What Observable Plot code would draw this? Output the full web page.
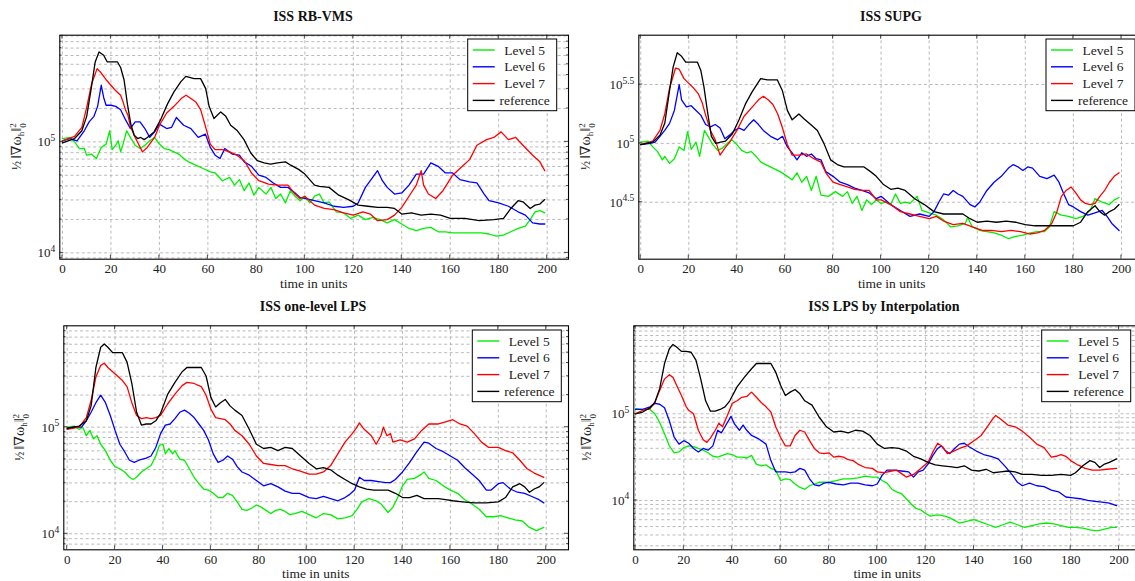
<!DOCTYPE html>
<html><head><meta charset="utf-8">
<script src="https://cdn.jsdelivr.net/npm/d3@7"></script>
<script src="https://cdn.jsdelivr.net/npm/@observablehq/plot@0.6"></script>
<style>
html,body{margin:0;padding:0;background:#fff;overflow:hidden;}
body{width:1135px;height:581px;position:relative;font-family:"Liberation Serif","DejaVu Serif",serif;}
.panel{position:absolute;}
.panel text, .panel tspan{font-family:"Liberation Serif","DejaVu Serif",serif !important;}
</style></head><body>
<script>
// Values are log10 of ½‖∇ω_h‖²₀, pairs [time, log10 value]
const seriesNames = ["Level 5", "Level 6", "Level 7", "reference"];
const seriesColors = ["#00f000", "#0000ff", "#ff0000", "#000000"];
const xTickValues = [0, 20, 40, 60, 80, 100, 120, 140, 160, 180, 200];

// ---- ISS RB-VMS ----
const rbvms_level5 = [[0,5.03],[3,5.04],[5,5.0],[7,4.94],[9,4.94],[10,4.88],[12,4.89],[14,4.85],[16,4.95],[18,4.98],[19.5,5.1],[20.5,4.93],[22,4.97],[23,5.01],[24,4.91],[25,4.98],[26.5,5.1],[28,5.04],[30,4.97],[32,4.94],[34,4.97],[36,5.01],[38,5.04],[40,4.98],[42,4.94],[44,4.93],[46,4.91],[48,4.89],[50,4.85],[52,4.82],[55,4.79],[58,4.76],[61,4.73],[63,4.72],[66,4.65],[69,4.68],[71,4.61],[73,4.66],[75,4.56],[77,4.63],[79,4.52],[81,4.59],[84,4.53],[86,4.59],[88,4.49],[90,4.53],[92,4.45],[94,4.56],[96,4.51],[98,4.47],[100,4.51],[102,4.45],[104,4.51],[106,4.53],[108,4.45],[110,4.46],[113,4.37],[116,4.36],[119,4.31],[122,4.34],[125,4.3],[128,4.32],[131,4.3],[134,4.27],[137,4.3],[140,4.26],[143,4.22],[146,4.2],[149,4.22],[152,4.23],[155,4.19],[158,4.19],[161,4.18],[165,4.18],[169,4.18],[173,4.18],[176,4.17],[179,4.15],[182,4.16],[185,4.19],[188,4.22],[191,4.24],[193,4.3],[195,4.37],[197,4.38],[199,4.36]];
const rbvms_level6 = [[0,5.01],[3,5.03],[6,5.01],[9,5.1],[11,5.18],[13,5.23],[14.5,5.32],[16,5.51],[17,5.4],[18,5.33],[20,5.33],[22,5.32],[24,5.29],[26,5.2],[28,5.12],[30,5.18],[32,5.18],[34,5.12],[36,5.04],[38,5.09],[40,5.16],[43,5.12],[45,5.13],[47,5.22],[50,5.15],[53,5.12],[56,5.04],[59,5.07],[61,4.95],[63,4.88],[65,4.85],[67,4.94],[70,4.89],[73,4.88],[75,4.82],[78,4.78],[81,4.7],[84,4.68],[87,4.63],[90,4.59],[93,4.59],[96,4.54],[98,4.5],[100,4.49],[104,4.47],[108,4.45],[112,4.42],[116,4.41],[120,4.42],[122,4.45],[125,4.59],[128,4.68],[130,4.74],[132,4.65],[134,4.59],[137,4.53],[140,4.54],[143,4.61],[146,4.71],[149,4.71],[152,4.81],[155,4.78],[158,4.72],[161,4.72],[164,4.66],[168,4.64],[171,4.63],[174,4.53],[176,4.47],[180,4.45],[184,4.42],[188,4.37],[191,4.34],[194,4.27],[197,4.26],[199,4.26]];
const rbvms_level7 = [[0,5.01],[5,5.05],[8,5.13],[10,5.31],[12,5.52],[14.3,5.66],[16,5.62],[18,5.56],[20,5.51],[22,5.46],[24,5.42],[25,5.36],[26,5.29],[27,5.24],[28,5.14],[30,5.04],[33,4.91],[35,4.95],[38,5.04],[40,5.15],[43,5.26],[46,5.32],[49,5.39],[51,5.42],[53,5.39],[55,5.36],[57,5.29],[59,5.14],[61,4.98],[63,4.93],[66,4.93],[69,4.91],[72,4.88],[75,4.83],[78,4.72],[81,4.65],[85,4.62],[89,4.61],[93,4.61],[96,4.53],[98,4.49],[100,4.51],[104,4.43],[108,4.4],[112,4.39],[116,4.36],[120,4.34],[124,4.37],[127,4.35],[130,4.29],[134,4.3],[137,4.34],[140,4.41],[143,4.51],[146,4.61],[148,4.74],[149,4.61],[151,4.53],[154,4.49],[157,4.56],[161,4.7],[165,4.78],[168,4.84],[171,4.97],[175,5.02],[178,5.04],[181,5.09],[184,5.02],[187,5.04],[190,4.97],[194,4.88],[197,4.82],[199,4.74]];
const rbvms_reference = [[0,4.99],[5,5.03],[8,5.1],[10,5.23],[12,5.5],[13.5,5.72],[15.1,5.81],[17,5.78],[18.5,5.72],[20,5.72],[22.7,5.72],[24,5.67],[25.4,5.56],[26.8,5.34],[28.2,5.16],[29.6,5.06],[31,5.03],[32.3,5.04],[33.7,5.02],[35,5.04],[37.8,5.09],[40.5,5.2],[43.3,5.34],[46,5.45],[48.8,5.54],[50.9,5.59],[54.3,5.57],[57,5.57],[59.1,5.48],[60.5,5.32],[62.5,5.21],[65.3,5.27],[67.4,5.23],[69.4,5.15],[72.2,5.1],[74.9,5.02],[77.7,4.9],[80.4,4.83],[83.2,4.81],[85.9,4.8],[88.7,4.81],[92,4.82],[94.2,4.79],[97.6,4.75],[100,4.71],[104,4.61],[106,4.6],[110,4.59],[114,4.52],[118,4.48],[122,4.43],[126,4.42],[130,4.41],[134,4.41],[137,4.4],[140,4.35],[144,4.36],[148,4.34],[152,4.35],[156,4.34],[160,4.31],[166,4.31],[172,4.29],[178,4.3],[182,4.31],[185,4.4],[188,4.47],[190,4.46],[193,4.4],[195,4.43],[197,4.44],[199,4.48]];

// ---- ISS SUPG ----
const supg_level5 = [[0,5.01],[3,5.02],[5,4.97],[7,4.93],[9,4.86],[10,4.89],[12,4.83],[14,4.87],[16,4.97],[18,4.94],[19.5,5.1],[21,4.95],[23,5.01],[24.5,4.89],[26.5,5.11],[28,5.06],[30,4.99],[32,4.94],[34,4.96],[36,5.0],[38,5.03],[40,4.99],[42,4.94],[44,4.92],[46,4.93],[48,4.89],[50,4.84],[52,4.82],[55,4.79],[58,4.76],[61,4.72],[63,4.69],[65,4.75],[67,4.67],[69,4.72],[71,4.6],[73,4.72],[75,4.56],[78,4.55],[81,4.59],[84,4.55],[86,4.59],[88,4.49],[90,4.55],[92,4.43],[94,4.52],[96,4.48],[98,4.52],[100,4.49],[102,4.5],[104,4.48],[106,4.57],[108,4.49],[110,4.5],[112,4.49],[115,4.55],[117,4.43],[120,4.41],[123,4.39],[126,4.35],[129,4.29],[132,4.3],[135,4.32],[136,4.37],[138,4.29],[141,4.26],[144,4.25],[147,4.24],[150,4.22],[153,4.19],[156,4.21],[159,4.22],[162,4.24],[165,4.25],[168,4.25],[170,4.29],[172,4.42],[175,4.39],[178,4.38],[181,4.36],[184,4.38],[187,4.43],[189,4.53],[192,4.5],[195,4.48],[197,4.52],[199,4.54]];
const supg_level6 = [[0,4.99],[4,5.0],[6,5.01],[8,5.06],[10,5.11],[12,5.17],[14,5.28],[16,5.5],[17,5.37],[19,5.31],[21,5.32],[23,5.28],[25,5.24],[27,5.16],[29,5.14],[31,5.16],[33,5.13],[35,5.04],[37,5.07],[39,5.11],[41,5.13],[43,5.11],[45,5.16],[47,5.2],[49,5.16],[51,5.11],[54,5.06],[57,5.03],[59,5.06],[61,4.97],[63,4.92],[65,4.86],[67,4.92],[69,4.89],[71,4.91],[73,4.87],[75,4.86],[77,4.76],[80,4.72],[83,4.67],[86,4.65],[89,4.62],[92,4.6],[95,4.58],[98,4.53],[100,4.55],[104,4.48],[108,4.43],[112,4.38],[116,4.4],[120,4.38],[122,4.42],[124,4.5],[126,4.57],[128,4.56],[130,4.6],[132,4.57],[134,4.55],[137,4.48],[139,4.46],[141,4.5],[144,4.6],[147,4.67],[150,4.72],[153,4.79],[155,4.82],[157,4.8],[159,4.77],[161,4.8],[163,4.79],[166,4.72],[169,4.7],[172,4.73],[174,4.67],[176,4.57],[178,4.48],[180,4.46],[183,4.42],[186,4.39],[189,4.41],[192,4.43],[194,4.38],[196,4.32],[199,4.26]];
const supg_level7 = [[0,4.99],[5,5.02],[8,5.11],[10,5.25],[12,5.47],[14.5,5.64],[16,5.63],[18,5.55],[20,5.51],[22,5.47],[24,5.42],[25.5,5.35],[27,5.24],[29,5.11],[31,5.03],[33,4.9],[35,4.96],[37,5.01],[40,5.11],[43,5.23],[46,5.3],[49,5.37],[51,5.4],[53,5.37],[55,5.33],[57,5.25],[59,5.13],[61,4.99],[63,4.9],[66,4.9],[69,4.91],[72,4.87],[75,4.84],[77,4.75],[80,4.67],[83,4.65],[86,4.63],[89,4.61],[92,4.6],[95,4.6],[98,4.52],[100,4.52],[104,4.48],[108,4.42],[112,4.4],[116,4.38],[120,4.36],[123,4.38],[126,4.34],[130,4.31],[134,4.32],[138,4.29],[142,4.26],[146,4.26],[150,4.25],[154,4.26],[158,4.25],[162,4.23],[165,4.24],[168,4.26],[171,4.32],[173,4.41],[175,4.55],[177,4.6],[179,4.63],[181,4.58],[183,4.52],[185,4.49],[187,4.48],[189,4.49],[191,4.55],[193,4.6],[195,4.67],[197,4.72],[199,4.75]];
const supg_reference = [[0,4.99],[5,5.01],[8,5.07],[10,5.17],[12,5.45],[13.5,5.65],[15.2,5.77],[17,5.74],[18.7,5.69],[20.8,5.69],[23.6,5.69],[25,5.62],[26.3,5.48],[27.7,5.28],[29.4,5.06],[31.2,5.0],[33.3,5.01],[35.3,5.02],[38.1,5.08],[40.9,5.2],[43.7,5.34],[46.4,5.44],[49.9,5.55],[52.7,5.54],[56.8,5.54],[58.9,5.45],[61,5.28],[63,5.2],[65.8,5.25],[67.9,5.21],[70.7,5.16],[73.5,5.11],[76.2,5.0],[79,4.86],[81.8,4.82],[84.5,4.8],[87.3,4.8],[90,4.8],[92.9,4.8],[95.6,4.76],[98,4.72],[101,4.65],[104,4.61],[107,4.62],[110,4.6],[114,4.53],[118,4.48],[122,4.42],[126,4.4],[130,4.4],[134,4.4],[137,4.36],[140,4.33],[144,4.34],[148,4.33],[152,4.34],[156,4.33],[160,4.31],[164,4.3],[170,4.3],[176,4.3],[180,4.3],[183,4.33],[186,4.42],[189,4.47],[191,4.42],[193,4.39],[195,4.42],[197,4.44],[199,4.48]];

// ---- ISS one-level LPS ----
const lps1_level5 = [[0,5.0],[3,5.01],[5,4.98],[6.5,5.0],[8,4.92],[9.5,4.97],[11,4.89],[12.5,4.92],[14,4.84],[16,4.78],[18,4.69],[20,4.63],[22,4.61],[24,4.58],[26,4.53],[27.5,4.51],[29,4.53],[31,4.58],[33,4.61],[35,4.64],[37,4.73],[38.5,4.83],[40,4.84],[41,4.75],[42.5,4.8],[44,4.75],[45,4.78],[47,4.7],[49,4.69],[51,4.61],[53,4.53],[55,4.47],[57,4.42],[59,4.41],[61,4.38],[63,4.34],[65,4.34],[67,4.38],[69,4.36],[71,4.3],[73,4.23],[75,4.22],[77,4.24],[79,4.27],[81,4.25],[83,4.22],[85,4.19],[87,4.22],[89,4.23],[91,4.21],[93,4.18],[95,4.19],[98,4.21],[101,4.18],[104,4.15],[107,4.19],[110,4.18],[113,4.14],[116,4.15],[119,4.17],[121,4.23],[123,4.3],[126,4.33],[129,4.31],[131,4.28],[134,4.2],[136,4.25],[138,4.34],[140,4.45],[142,4.51],[145,4.52],[148,4.56],[149,4.58],[151,4.52],[154,4.5],[157,4.45],[160,4.41],[163,4.38],[166,4.32],[169,4.28],[172,4.23],[175,4.16],[178,4.16],[181,4.17],[184,4.15],[187,4.13],[190,4.12],[193,4.06],[196,4.03],[199,4.06]];
const lps1_level6 = [[0,4.99],[3,5.0],[6,5.0],[8,5.06],[10,5.14],[12,5.23],[14,5.3],[16,5.23],[18,5.11],[20,4.97],[22,4.84],[24,4.77],[26,4.69],[28,4.67],[30,4.69],[33,4.71],[35,4.73],[37,4.81],[39,4.94],[41,5.02],[43,5.03],[45,5.08],[47,5.14],[49,5.16],[51,5.13],[53,5.09],[55,5.03],[57,4.97],[59,4.88],[61,4.75],[63,4.67],[65,4.69],[67,4.73],[69,4.7],[71,4.63],[73,4.58],[76,4.55],[79,4.5],[82,4.45],[85,4.47],[88,4.44],[91,4.4],[94,4.38],[97,4.38],[101,4.34],[104,4.33],[107,4.35],[110,4.33],[113,4.31],[116,4.34],[118,4.37],[120,4.41],[122,4.53],[124,4.5],[127,4.5],[130,4.49],[133,4.48],[135,4.48],[137,4.51],[140,4.58],[143,4.67],[146,4.77],[149,4.86],[151,4.85],[154,4.8],[157,4.77],[160,4.73],[163,4.69],[166,4.62],[169,4.56],[172,4.5],[175,4.41],[177,4.41],[180,4.47],[182,4.48],[185,4.42],[188,4.39],[191,4.38],[194,4.35],[197,4.32],[199,4.29]];
const lps1_level7 = [[0,4.98],[5,5.0],[8,5.09],[10,5.25],[12,5.47],[14,5.58],[15.5,5.6],[17,5.56],[19,5.52],[21,5.48],[23,5.44],[25,5.38],[27,5.23],[29,5.11],[31,5.08],[33,5.09],[35,5.08],[37,5.09],[39,5.11],[42,5.22],[45,5.31],[48,5.39],[50,5.42],[53,5.41],[56,5.38],[58,5.3],[60,5.17],[62,5.09],[64,5.08],[66,5.07],[68,5.03],[70,4.97],[73,4.92],[76,4.84],[79,4.73],[82,4.66],[85,4.65],[88,4.64],[91,4.64],[94,4.61],[97,4.59],[101,4.56],[104,4.56],[107,4.58],[110,4.64],[113,4.75],[116,4.86],[119,4.94],[121,5.0],[122,5.04],[124,4.98],[127,4.92],[129,4.84],[131,4.92],[132,5.0],[133.5,4.92],[135,4.94],[136,4.86],[139,4.88],[142,4.86],[145,4.89],[148,4.97],[151,5.03],[155,5.03],[158,5.05],[161,5.07],[164,5.03],[167,5.01],[170,4.94],[173,4.86],[176,4.81],[180,4.81],[183,4.78],[186,4.76],[189,4.69],[192,4.61],[195,4.57],[199,4.53]];
const lps1_reference = [[0,4.99],[5,5.01],[8,5.06],[10,5.2],[12,5.56],[14,5.75],[15.5,5.78],[17,5.75],[19,5.7],[21,5.7],[23,5.7],[25,5.61],[27,5.41],[29,5.14],[31,5.02],[33,5.03],[35,5.03],[37,5.06],[39,5.13],[42,5.31],[45,5.42],[48,5.52],[50,5.56],[53,5.56],[56,5.56],[58,5.48],[60,5.28],[62,5.19],[64,5.23],[66,5.26],[68,5.2],[70,5.16],[73,5.11],[76,4.98],[79,4.84],[82,4.8],[85,4.81],[88,4.78],[91,4.81],[94,4.8],[97,4.74],[101,4.66],[104,4.61],[107,4.62],[110,4.6],[113,4.55],[116,4.51],[119,4.47],[122,4.44],[125,4.42],[128,4.41],[131,4.41],[134,4.41],[137,4.38],[140,4.34],[143,4.34],[146,4.36],[149,4.33],[152,4.33],[155,4.33],[158,4.32],[161,4.31],[165,4.3],[170,4.29],[175,4.29],[180,4.3],[183,4.34],[186,4.44],[189,4.47],[191,4.44],[193,4.39],[195,4.42],[197,4.44],[199,4.48]];

// ---- ISS LPS by Interpolation ----
const lpsi_level5 = [[0,5.06],[3,5.05],[6,5.05],[8,5.0],[10,4.9],[12,4.77],[14,4.63],[16,4.55],[18,4.56],[20,4.61],[22,4.63],[24,4.62],[26,4.6],[28,4.58],[30,4.55],[32,4.51],[34,4.5],[36,4.52],[38,4.54],[40,4.53],[42,4.5],[44,4.5],[46,4.49],[48,4.52],[50,4.42],[52,4.4],[54,4.41],[56,4.37],[58,4.35],[60,4.23],[62,4.25],[64,4.24],[66,4.19],[68,4.15],[70,4.13],[72,4.17],[74,4.19],[76,4.21],[78,4.21],[80,4.21],[83,4.23],[86,4.25],[89,4.25],[92,4.26],[95,4.28],[98,4.27],[100,4.27],[102,4.23],[104,4.2],[106,4.13],[108,4.1],[110,4.08],[112,4.02],[114,3.96],[116,3.91],[118,3.89],[120,3.85],[122,3.82],[124,3.83],[126,3.83],[128,3.82],[130,3.8],[132,3.77],[134,3.74],[137,3.76],[140,3.78],[143,3.75],[146,3.72],[149,3.69],[152,3.72],[155,3.75],[158,3.72],[161,3.69],[164,3.71],[167,3.73],[170,3.74],[173,3.73],[176,3.71],[179,3.69],[182,3.69],[185,3.68],[188,3.66],[191,3.65],[194,3.67],[197,3.69],[199,3.69]];
const lpsi_level6 = [[0,5.05],[3,5.05],[6,5.08],[8,5.12],[10,5.11],[12,5.07],[14,4.92],[16,4.73],[18,4.65],[20,4.69],[22,4.66],[24,4.6],[26,4.56],[28,4.6],[30,4.58],[32,4.63],[34,4.81],[35.5,4.78],[37,4.85],[39.5,4.97],[41,4.88],[43,4.81],[44.5,4.87],[46,4.81],[48,4.75],[51,4.71],[54,4.65],[56,4.46],[58,4.33],[60,4.33],[62,4.33],[64,4.32],[66,4.33],[68,4.37],[70,4.35],[72,4.25],[74,4.18],[76,4.17],[78,4.2],[80,4.21],[83,4.19],[86,4.18],[89,4.2],[92,4.2],[95,4.18],[98,4.17],[100,4.19],[102,4.29],[104,4.35],[107,4.35],[110,4.34],[113,4.33],[115,4.27],[117,4.33],[119,4.35],[121,4.42],[123,4.52],[125,4.6],[126.5,4.63],[128,4.58],[130,4.54],[132,4.6],[134,4.65],[136,4.66],[138,4.62],[141,4.57],[144,4.53],[147,4.51],[150,4.48],[153,4.39],[156,4.29],[158,4.21],[160,4.17],[163,4.2],[166,4.17],[169,4.16],[172,4.12],[175,4.1],[178,4.04],[181,4.03],[184,4.02],[187,4.0],[190,3.99],[193,3.98],[196,3.97],[199,3.94]];
const lpsi_level7 = [[0,5.0],[3,5.04],[6,5.06],[8,5.13],[10,5.27],[12,5.4],[14,5.45],[15.5,5.42],[17,5.33],[19,5.21],[21,5.08],[22,5.04],[24,5.0],[26,4.81],[28,4.7],[29.5,4.67],[31,4.72],[33,4.81],[34.5,4.89],[36,4.85],[38,4.98],[40,5.12],[42,5.15],[44,5.19],[46,5.2],[48,5.25],[50,5.19],[52,5.13],[54,5.08],[56,5.02],[58,4.85],[60,4.73],[62,4.63],[64,4.63],[66,4.75],[68,4.81],[70,4.79],[72,4.69],[74,4.6],[76,4.55],[78,4.54],[80,4.55],[82,4.5],[84,4.51],[86,4.5],[88,4.47],[90,4.46],[92,4.42],[95,4.38],[98,4.37],[100,4.33],[103,4.32],[106,4.34],[108,4.35],[110,4.31],[112,4.27],[115,4.3],[118,4.37],[121,4.44],[123,4.56],[125,4.66],[127,4.62],[129,4.54],[131,4.56],[134,4.6],[137,4.63],[140,4.69],[143,4.75],[146,4.87],[148,4.95],[149,4.98],[151,4.94],[154,4.87],[157,4.85],[160,4.8],[163,4.73],[166,4.65],[169,4.61],[172,4.5],[174,4.51],[176,4.53],[178,4.51],[180,4.46],[183,4.41],[186,4.37],[189,4.35],[192,4.35],[195,4.36],[199,4.37]];
const lpsi_reference = [[0,5.0],[3,5.02],[6,5.07],[8,5.13],[10,5.29],[12,5.58],[14,5.75],[15.5,5.8],[17,5.77],[19,5.72],[21,5.72],[23,5.71],[25,5.62],[27,5.4],[29,5.15],[31,5.03],[33,5.03],[35,5.05],[37,5.08],[39,5.15],[42,5.31],[45,5.42],[48,5.52],[50,5.58],[53,5.58],[56,5.58],[58,5.48],[60,5.33],[62,5.21],[64,5.25],[66,5.28],[68,5.23],[70,5.15],[73,5.1],[76,4.96],[79,4.85],[82,4.79],[85,4.8],[88,4.78],[91,4.81],[94,4.8],[97,4.75],[100,4.65],[103,4.6],[106,4.61],[109,4.6],[112,4.57],[115,4.51],[118,4.48],[121,4.44],[124,4.41],[127,4.4],[130,4.39],[133,4.38],[136,4.4],[139,4.35],[142,4.34],[145,4.36],[148,4.32],[151,4.33],[154,4.34],[157,4.33],[160,4.3],[164,4.3],[168,4.29],[172,4.29],[176,4.3],[180,4.29],[182,4.32],[185,4.4],[188,4.46],[190,4.44],[192,4.38],[194,4.42],[196,4.44],[199,4.48]];

const panels = [
  {title:"ISS RB-VMS", series:[rbvms_level5,rbvms_level6,rbvms_level7,rbvms_reference],
   left:0, top:0, width:570, height:290, frame:[59.3,568,34.7,258.7],
   xDomain:[-1.1,208.8], yExp:[3.943,5.961], yMajor:[4,5], yMinor:true, legend:[467.7,39], ylx:21},
  {title:"ISS SUPG", series:[supg_level5,supg_level6,supg_level7,supg_reference],
   left:568, top:0, width:600, height:290, frame:[638.3,1145,34.7,258.7],
   xDomain:[-0.8,210], yExp:[4.016,5.919], yMajor:[4.5,5,5.5], yMinor:false, legend:[1046,39], ylx:22},
  {title:"ISS one-level LPS", series:[lps1_level5,lps1_level6,lps1_level7,lps1_reference],
   left:0, top:290, width:570, height:291, frame:[63.3,568,325.3,549.3],
   xDomain:[-1.4,209.3], yExp:[3.85,5.951], yMajor:[4,5], yMinor:true, legend:[472.3,330], ylx:24},
  {title:"ISS LPS by Interpolation", series:[lpsi_level5,lpsi_level6,lpsi_level7,lpsi_reference],
   left:568, top:290, width:600, height:291, frame:[633.3,1141,325.3,549.3],
   xDomain:[-0.7,209.3], yExp:[3.431,6.015], yMajor:[4,5], yMinor:true, legend:[1041.7,330], ylx:23}
];

const FONT = '"Liberation Serif","DejaVu Serif",serif';
const gridStyle = {stroke:"#a8a8a8", strokeWidth:0.8, strokeDasharray:"3,2.6"};

function gridValues(p) {
  const lo = Math.pow(10, p.yExp[0]), hi = Math.pow(10, p.yExp[1]);
  if (!p.yMinor) return p.yMajor.map(e => Math.pow(10, e));
  const vals = [];
  for (let e = Math.floor(p.yExp[0]); e <= Math.ceil(p.yExp[1]); e++)
    for (let k = 1; k <= 9; k++) { const v = k * Math.pow(10, e); if (v > lo && v < hi) vals.push(v); }
  return vals;
}

panels.forEach(p => {
  const [fx0, fx1, fy0, fy1] = p.frame;
  const mL = fx0 - p.left, mR = (p.left + p.width) - fx1, mT = fy0 - p.top, mB = (p.top + p.height) - fy1;
  const grid = gridValues(p);
  const plot = Plot.plot({
    width: p.width, height: p.height,
    marginLeft: mL, marginRight: mR, marginTop: mT, marginBottom: mB,
    style: {fontFamily: FONT, fontSize: "13px", background: "transparent", overflow: "visible", maxWidth: "none"},
    x: {domain: p.xDomain},
    y: {type: "log", domain: [Math.pow(10, p.yExp[0]), Math.pow(10, p.yExp[1])], axis: null},
    marks: [
      Plot.ruleY(grid, gridStyle),
      Plot.ruleX(xTickValues, gridStyle),
      ...p.series.map((s, i) => Plot.line(s, {x: d => d[0], y: d => Math.pow(10, d[1]), stroke: seriesColors[i], strokeWidth: 1.3, clip: true})),
      Plot.frame({stroke: "black", strokeWidth: 1.1}),
      Plot.axisX(xTickValues, {tickSize: 0, tickPadding: 5, label: null, fontSize: 13, fill: "#222"})
    ]
  });
  plot.classList.add("panel");
  plot.style.left = p.left + "px";
  plot.style.top = p.top + "px";
  document.body.appendChild(plot);

  const svg = d3.select(plot);
  const xs = plot.scale("x"), ys = plot.scale("y");
  const X0 = fx0 - p.left, X1 = fx1 - p.left, Y0 = fy0 - p.top, Y1 = fy1 - p.top;
  const g = svg.append("g").attr("font-family", FONT).attr("fill", "#222");

  // inner tick marks
  const tk = svg.append("g").attr("stroke", "#222").attr("stroke-width", 0.8);
  xTickValues.forEach(v => {
    const x = xs.apply(v);
    tk.append("line").attr("x1", x).attr("x2", x).attr("y1", Y1).attr("y2", Y1 - 4);
    tk.append("line").attr("x1", x).attr("x2", x).attr("y1", Y0).attr("y2", Y0 + 4);
  });
  grid.forEach(v => {
    const y = ys.apply(v);
    const major = p.yMajor.some(e => Math.abs(Math.log10(v) - e) < 1e-6);
    const len = major ? 4 : 2;
    tk.append("line").attr("x1", X0).attr("x2", X0 + len).attr("y1", y).attr("y2", y);
    tk.append("line").attr("x1", X1).attr("x2", X1 - len).attr("y1", y).attr("y2", y);
  });

  // y tick labels 10^e
  p.yMajor.forEach(e => {
    const y = ys.apply(Math.pow(10, e));
    const t = g.append("text").attr("x", X0 - 4).attr("y", y + 5).attr("text-anchor", "end").attr("font-size", 13);
    t.append("tspan").text("10");
    t.append("tspan").attr("dy", -5.5).attr("font-size", 9.5).text(String(e));
  });

  // title
  const titleX = p.left === 0 ? 313 : (p.top === 0 ? 891 - p.left : 884 - p.left);
  g.append("text").attr("x", titleX).attr("y", Y0 - 14)
    .attr("text-anchor", "middle").attr("font-weight", "bold").attr("font-size", 14).attr("fill", "#111").text(p.title);
  // x label
  g.append("text").attr("x", (X0 + X1) / 2).attr("y", Y1 + 29).attr("text-anchor", "middle")
    .attr("font-size", 13.5).text("time in units");
  // y label
  const yl = g.append("text").attr("transform", `translate(${p.ylx},${(Y0 + Y1) / 2}) rotate(-90)`)
    .attr("text-anchor", "middle").attr("font-size", 14);
  yl.append("tspan").attr("font-size", 12).text("½");
  yl.append("tspan").attr("dx", 2).text("‖∇ω");
  yl.append("tspan").attr("font-size", 9).attr("dy", 3).text("h");
  yl.append("tspan").attr("dy", -3).text("‖");
  yl.append("tspan").attr("font-size", 9).attr("dy", -5).text("2");
  yl.append("tspan").attr("font-size", 9).attr("dx", -4.5).attr("dy", 10).text("0");

  // legend
  const lx = p.legend[0] - p.left, ly = p.legend[1] - p.top;
  const lg = svg.append("g").attr("font-family", FONT);
  lg.append("rect").attr("x", lx).attr("y", ly).attr("width", 89).attr("height", 71.7)
    .attr("fill", "white").attr("stroke", "black").attr("stroke-width", 1);
  seriesNames.forEach((name, i) => {
    const cy = ly + 11 + 16.8 * i;
    lg.append("line").attr("x1", lx + 5).attr("x2", lx + 27).attr("y1", cy).attr("y2", cy)
      .attr("stroke", seriesColors[i]).attr("stroke-width", 1.4);
    lg.append("text").attr("x", lx + 57).attr("y", cy + 4.5).attr("text-anchor", "middle")
      .attr("font-size", 13.5).attr("fill", "#222").text(name);
  });
});
</script>
</body></html>
